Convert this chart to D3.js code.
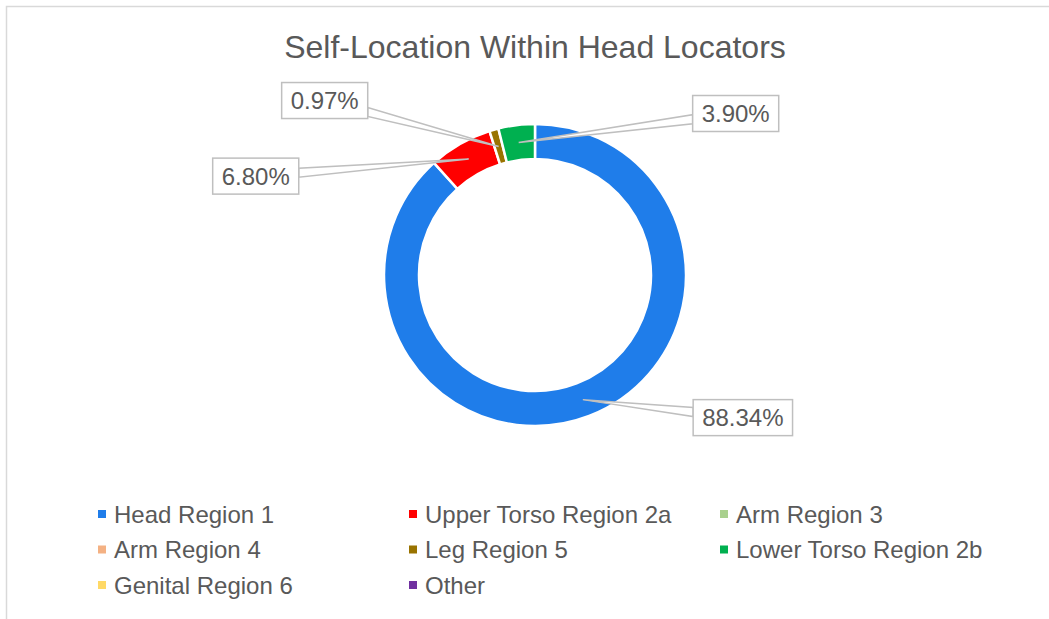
<!DOCTYPE html>
<html>
<head>
<meta charset="utf-8">
<style>
  html, body { margin: 0; padding: 0; background: #fff; }
  svg { display: block; font-family: "Liberation Sans", Arial, sans-serif; }
</style>
</head>
<body>
<svg id="donut" width="1049" height="619"></svg>
<script src="https://d3js.org/d3.v7.min.js"></script>
<script>
var categories = ["Head Region 1", "Upper Torso Region 2a", "Arm Region 3", "Arm Region 4",
                  "Leg Region 5", "Lower Torso Region 2b", "Genital Region 6", "Other"];
var values = [88.34, 6.80, 0, 0, 0.97, 3.90, 0, 0];
var colors = ["#1F7DEA", "#FF0000", "#A9D08E", "#F4B183", "#997300", "#00B050", "#FFD966", "#7030A0"];
var labelText = ["88.34%", "6.80%", "", "", "0.97%", "3.90%", "", ""];

// where the callout boxes sit, relative to each slice's centroid
var labelOffset = {0: [160, 18], 1: [-213, 17], 4: [-174, -46], 5: [217, -29]};

var svg = d3.select("#donut");
var textColor = "#595959";

// chart area frame
svg.append("rect")
  .attr("x", 6.5).attr("y", 6.5)
  .attr("width", 1100).attr("height", 700)
  .attr("fill", "none")
  .attr("stroke", "#d9d9d9")
  .attr("stroke-width", 1.5);

svg.append("text")
  .attr("x", 535).attr("y", 58)
  .attr("text-anchor", "middle")
  .style("font-size", "32px")
  .attr("fill", textColor)
  .text("Self-Location Within Head Locators");

var cx = 535, cy = 275, outerR = 151, innerR = 116;

var data = categories.map(function(c, i) { return {name: c, value: values[i], color: colors[i], label: labelText[i], idx: i}; });

var pie = d3.pie().sort(null).value(function(d) { return d.value; });
var arc = d3.arc().innerRadius(innerR).outerRadius(outerR);
var midArc = d3.arc().innerRadius((innerR + outerR) / 2).outerRadius((innerR + outerR) / 2);

var g = svg.append("g").attr("transform", "translate(" + cx + "," + cy + ")");

var arcs = pie(data);

g.selectAll("path.slice")
  .data(arcs.filter(function(d) { return d.data.value > 0; }))
  .enter()
  .append("path")
  .attr("class", "slice")
  .attr("d", arc)
  .attr("fill", function(d) { return d.data.color; })
  .attr("stroke", "#fff")
  .attr("stroke-width", 2.5);

// callouts
var fs = 24;
arcs.forEach(function(d) {
  if (!d.data.label) return;
  var c = midArc.centroid(d);
  var off = labelOffset[d.data.idx];
  var bx = c[0] + off[0], by = c[1] + off[1];
  var tmp = g.append("text").style("font-size", fs + "px").text(d.data.label);
  var tw = tmp.node().getComputedTextLength();
  tmp.remove();
  var w = tw + 18, h = 36;
  var left = bx - w / 2, right = bx + w / 2, top = by - h / 2;
  var edgeX = off[0] > 0 ? left : right;
  var t = (edgeX - c[0]) / (bx - c[0]);
  var ey = c[1] + (by - c[1]) * t;
  ey = Math.max(top + 5, Math.min(top + h - 5, ey));

  g.append("path")
    .attr("d", "M" + c[0] + "," + c[1] + "L" + edgeX + "," + (ey - 4.5) + "L" + edgeX + "," + (ey + 4.5) + "Z")
    .attr("fill", "#fff")
    .attr("stroke", "#bfbfbf")
    .attr("stroke-width", 1.5);

  g.append("rect")
    .attr("x", left).attr("y", top)
    .attr("width", w).attr("height", h)
    .attr("fill", "#fff")
    .attr("stroke", "#bfbfbf")
    .attr("stroke-width", 1.5);

  g.append("text")
    .attr("x", bx).attr("y", by + 8.5)
    .attr("text-anchor", "middle")
    .style("font-size", fs + "px")
    .attr("fill", textColor)
    .text(d.data.label);
});

// legend, 3 columns
var legend = svg.append("g");
var items = legend.selectAll("g.item")
  .data(data)
  .enter()
  .append("g")
  .attr("class", "item")
  .attr("transform", function(d, i) {
    return "translate(" + (98 + (i % 3) * 311) + "," + (514 + Math.floor(i / 3) * 35.5) + ")";
  });

items.append("rect")
  .attr("x", 0).attr("y", -4)
  .attr("width", 8).attr("height", 8)
  .attr("fill", function(d) { return d.color; });

items.append("text")
  .attr("x", 16).attr("y", 8.5)
  .style("font-size", "24px")
  .attr("fill", textColor)
  .text(function(d) { return d.name; });
</script>
</body>
</html>
